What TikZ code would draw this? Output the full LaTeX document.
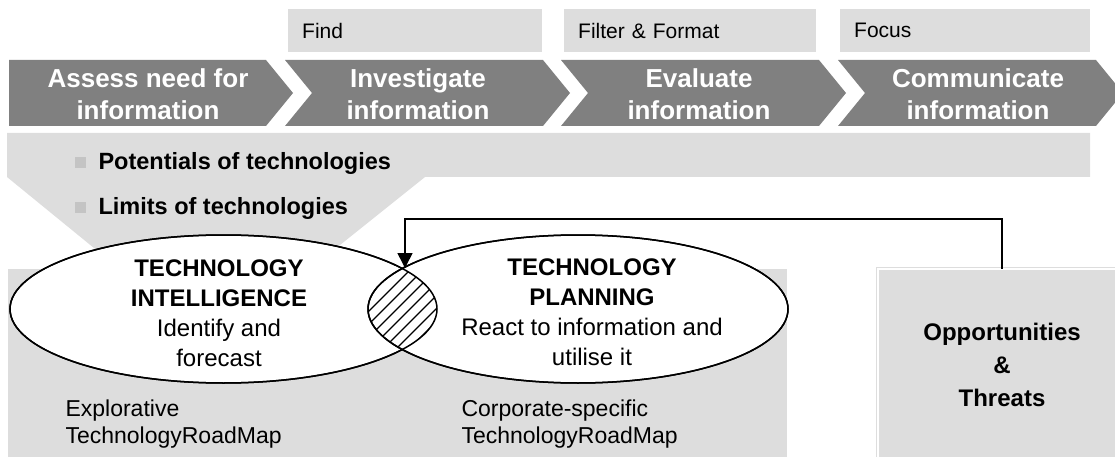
\documentclass[tikz,border=0pt]{standalone}
\usepackage{fontspec}
\setmainfont{Liberation Sans}
\usetikzlibrary{arrows.meta,shapes.geometric}
\definecolor{lightg}{HTML}{DDDDDD}
\definecolor{darkg}{HTML}{808080}
\definecolor{bulletg}{HTML}{C4C4C4}
\begin{document}
\begin{tikzpicture}[x=1pt,y=-1pt,
  topbox/.style={fill=lightg, anchor=north west, minimum height=43pt, inner xsep=14pt, inner ysep=0pt, align=left, font=\fontsize{21}{25}\selectfont},
  chevtext/.style={text=white, align=center, font=\bfseries\fontsize{26}{32}\selectfont},
  bullettext/.style={anchor=west, font=\bfseries\fontsize{23.5}{28}\selectfont},
  elltext/.style={align=center, font=\fontsize{24}{30}\selectfont},
  maptext/.style={anchor=north west, align=left, font=\fontsize{23}{27}\selectfont},
  ell/.style={ellipse, draw=black, fill=white, line width=1.5pt, inner sep=0pt},
  hatch/.style={line width=1.2pt},
  conn/.style={line width=1.6pt, -{Triangle[length=15pt,width=15pt]}}
]
\useasboundingbox (0,0) rectangle (1115,457);

% top boxes
\node[topbox, minimum width=254pt, text width=226pt] (find) at (288,9) {Find};
\node[topbox, minimum width=252pt, text width=224pt] (filter) at (564,9) {Filter \& Format};
\node[topbox, minimum width=250pt, text width=222pt] (focus) at (840,9) {Focus};

% chevrons
\fill[darkg] (9,60) -- (266,60) -- (293,93) -- (266,126) -- (9,126) -- cycle;
\fill[darkg] (285,60) -- (543,60) -- (570,93) -- (543,126) -- (285,126) -- (312,93) -- cycle;
\fill[darkg] (561,60) -- (819,60) -- (846,93) -- (819,126) -- (561,126) -- (588,93) -- cycle;
\fill[darkg] (838,60) -- (1096,60) -- (1123,93) -- (1096,126) -- (838,126) -- (865,93) -- cycle;
\node[chevtext] (c1) at (148,94) {Assess need for\\information};
\node[chevtext] (c2) at (418,94) {Investigate\\information};
\node[chevtext] (c3) at (699,94) {Evaluate\\information};
\node[chevtext] (c4) at (978,94) {Communicate\\information};

% band with funnel
\fill[lightg] (7,133) -- (1090,133) -- (1090,177) -- (425,177) -- (325,257) -- (105,257) -- (7,177) -- cycle;
\fill[bulletg] (75,157) rectangle (86,168);
\fill[bulletg] (75,202) rectangle (86,213);
\node[bullettext] (pot) at (95,163) {Potentials of technologies};
\node[bullettext] (lim) at (95,208) {Limits of technologies};

% bottom box
\fill[lightg] (8,269) rectangle (787,460);
\node[maptext] (expl) at (62,396) {Explorative\\TechnologyRoadMap};
\node[maptext] (corp) at (458,396) {Corporate-specific\\TechnologyRoadMap};

% opportunities box
\node[fill=lightg, draw=lightg, double=white, line width=0.8pt, double distance=1.6pt,
      minimum width=248pt, minimum height=192pt, align=center,
      font=\bfseries\fontsize{24}{33}\selectfont] (ot) at (1002,365) {Opportunities\\\&\\Threats};

% ellipses
\node[ell, minimum width=427pt, minimum height=148pt] (ti) at (223.5,309) {};
\node[ell, minimum width=420pt, minimum height=148pt] (tp) at (578,309) {};
\begin{scope}
  \clip (223.5,309) ellipse [x radius=213.5, y radius=74];
  \clip (578,309) ellipse [x radius=210, y radius=74];
  \foreach \i in {0,...,8} \draw[hatch] (300+13*\i,380) -- ++(130,-130);
\end{scope}
\draw[line width=1.5pt] (223.5,309) ellipse [x radius=213.5, y radius=74];
\draw[line width=1.5pt] (578,309) ellipse [x radius=210, y radius=74];

\node[elltext] (tit) at (219,313) {\textbf{TECHNOLOGY}\\\textbf{INTELLIGENCE}\\Identify and\\forecast};
\node[elltext] (tpt) at (592,312) {\textbf{TECHNOLOGY}\\\textbf{PLANNING}\\React to information and\\utilise it};

% feedback arrow
\coordinate (lenstop) at (405,268);
\coordinate (bend) at (1002,219);
\draw[conn] (ot.north) -- (bend) -| (lenstop);
\end{tikzpicture}
\end{document}
